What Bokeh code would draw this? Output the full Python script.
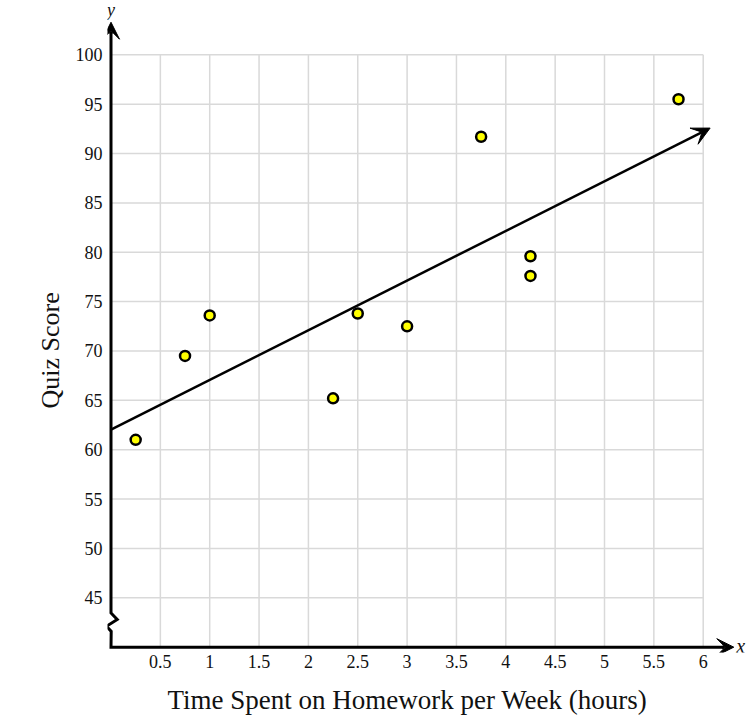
import numpy as np
from bokeh.plotting import figure
from bokeh.models import FixedTicker, Arrow, VeeHead, Title, Range1d
from bokeh.core.properties import value
from bokeh.embed import file_html
from bokeh.resources import INLINE

# ---- data ----
hours = [0.25, 0.75, 1.0, 2.25, 2.5, 3.0, 3.75, 4.25, 4.25, 5.75]
scores = [61.0, 69.5, 73.6, 65.2, 73.8, 72.5, 91.7, 79.6, 77.6, 95.5]

x_ticks = [0.5, 1.0, 1.5, 2.0, 2.5, 3.0, 3.5, 4.0, 4.5, 5.0, 5.5, 6.0]
x_tick_labels = ["0.5", "1", "1.5", "2", "2.5", "3", "3.5", "4", "4.5", "5", "5.5", "6"]
y_ticks = [45, 50, 55, 60, 65, 70, 75, 80, 85, 90, 95, 100]
y_tick_labels = ["45", "50", "55", "60", "65", "70", "75", "80", "85", "90", "95", "100"]

x_title = "Time Spent on Homework per Week (hours)"
y_title = "Quiz Score"

x_axis_min, x_axis_max = 0.0, 6.31      # x axis line (arrow tip)
y_axis_min, y_axis_max = 40.0, 103.3    # y axis line (arrow tip)
y_break = 42.55                          # axis break on y axis
fit_end = 6.07                           # end of trend-line arrow

FONT = "Liberation Serif"

p = figure(width=756, height=727,
           x_range=Range1d(-0.0355, 6.54), y_range=Range1d(39.46, 105.5),
           output_backend="svg", toolbar_location=None,
           min_border_left=107, min_border_right=0, min_border_top=0,
           min_border_bottom=75)
p.outline_line_color = None
p.background_fill_color = "white"
p.xgrid.visible = False
p.ygrid.visible = False

# axes (labels only)
for ax, ticks, labels in ((p.xaxis[0], x_ticks, x_tick_labels),
                          (p.yaxis[0], y_ticks, y_tick_labels)):
    ax.ticker = FixedTicker(ticks=ticks)
    ax.major_label_overrides = {t: l for t, l in zip(ticks, labels)}
    ax.axis_line_color = None
    ax.major_tick_line_color = None
    ax.minor_tick_line_color = None
    ax.major_tick_in = 0
    ax.major_tick_out = 0
    ax.minor_tick_in = 0
    ax.minor_tick_out = 0
    ax.major_label_text_font = FONT
    ax.major_label_text_font_size = "18px"
    ax.major_label_text_color = "#111111"
p.xaxis.major_label_standoff = 2
p.yaxis.major_label_standoff = 5

p.add_layout(Title(text=x_title, align="left", offset=60, standoff=24, vertical_align="bottom",
                   text_font=FONT, text_font_size="27px", text_font_style="normal",
                   text_color="#111111"), "below")
p.add_layout(Title(text=y_title, align="left", offset=244, standoff=15,
                   text_font=FONT, text_font_size="26px", text_font_style="normal",
                   text_color="#111111"), "left")

# grid
grid_color = "#d9d9d9"
p.segment(x0=x_ticks, y0=[y_axis_min] * len(x_ticks), x1=x_ticks, y1=[max(y_ticks)] * len(x_ticks),
          line_color=grid_color, line_width=1.5)
p.segment(x0=[x_axis_min] * len(y_ticks), y0=y_ticks, x1=[max(x_ticks)] * len(y_ticks), y1=y_ticks,
          line_color=grid_color, line_width=1.5)

# axis lines with break symbol on y axis
zx = [0, 0, 0.063, -0.046, 0.002, 0, x_axis_max - 0.1]
zy = [y_axis_max - 1.0, y_break + 0.92, y_break + 0.25, y_break - 0.43, y_break - 0.95,
      y_axis_min, y_axis_min]
p.line(zx, zy, line_color="black", line_width=3, line_join="miter")
p.add_layout(Arrow(x_start=0, y_start=y_axis_max - 1.2, x_end=0, y_end=y_axis_max,
                   line_width=3, line_color="black",
                   end=VeeHead(size=17, fill_color="black", line_color="black", line_width=1)))
p.add_layout(Arrow(x_start=x_axis_max - 0.12, y_start=y_axis_min, x_end=x_axis_max, y_end=y_axis_min,
                   line_width=3, line_color="black",
                   end=VeeHead(size=17, fill_color="black", line_color="black", line_width=1)))

p.text(x=[0.0], y=[104.5], text=["y"], text_font=value(FONT), text_font_size="18px",
       text_font_style="italic", text_align="center", text_baseline="middle", text_color="#111111")
p.text(x=[6.38], y=[40.15], text=["x"], text_font=value(FONT), text_font_size="20px",
       text_font_style="italic", text_align="center", text_baseline="middle", text_color="#111111")

# trend line (least squares fit)
m, b = np.polyfit(hours, scores, 1)
p.add_layout(Arrow(x_start=0, y_start=b, x_end=fit_end, y_end=b + m * fit_end,
                   line_width=2.5, line_color="black",
                   end=VeeHead(size=18, fill_color="black", line_color="black", line_width=1)))

# points
p.scatter(hours, scores, size=10, fill_color="#ffff00", line_color="black", line_width=2.5)

open("out.html", "w").write(file_html(p, INLINE))
